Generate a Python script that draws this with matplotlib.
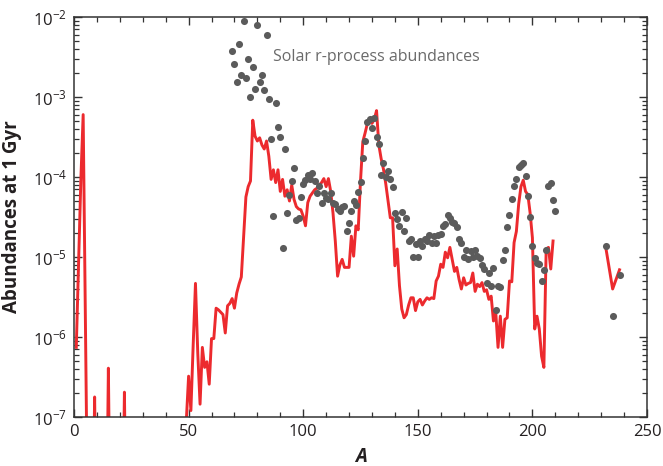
import numpy as np
import matplotlib
matplotlib.use("Agg")
import matplotlib.pyplot as plt
from matplotlib.ticker import MultipleLocator, LogLocator, NullFormatter, LogFormatterMathtext

plt.rcParams['font.family'] = ['Open Sans', 'DejaVu Sans']
plt.rcParams['mathtext.fontset'] = 'custom'
plt.rcParams['mathtext.rm'] = 'Open Sans'
plt.rcParams['mathtext.default'] = 'regular'

# model abundances at 1 Gyr (log10), A = 1..209, then actinides
model_A = list(range(1, 210))
model_log = [
    -6.13, -5.09, -4.03, -3.22, -5.80, -8.50, -9.0, -9.0, -6.75, -9.0,   # 1-10
    -9.0, -9.0, -9.0, -9.0, -6.39, -9.0, -9.0, -9.0, -9.0, -9.0,         # 11-20
    -9.0, -6.69, -9.0, -9.0, -9.0, -9.0, -9.0, -9.0, -9.0, -9.0,         # 21-30
    -9.0, -9.0, -9.0, -9.0, -9.0, -9.0, -9.0, -9.0, -9.0, -9.0,          # 31-40
    -9.0, -9.0, -9.0, -9.0, -9.0, -9.0, -9.0, -8.0, -7.05, -6.49,        # 41-50
    -6.92, -6.10, -5.33, -6.20, -6.84, -6.13, -6.38, -6.31, -6.59, -6.02,  # 51-60
    -6.02, -5.64, -5.66, -5.69, -5.72, -5.95, -5.61, -5.58, -5.52, -5.64,  # 61-70
    -5.45, -5.34, -5.25, -4.75, -4.25, -4.12, -4.05, -3.29, -3.49, -3.55,  # 71-80
    -3.51, -3.60, -3.65, -3.55, -3.74, -4.03, -3.91, -4.07, -3.91, -4.18,  # 81-90
    -4.03, -4.24, -4.16, -4.30, -4.10, -4.28, -4.37, -4.40, -4.41, -4.49,  # 91-100
    -4.61, -4.32, -4.24, -4.20, -4.16, -4.14, -4.10, -4.07, -4.02, -4.12,  # 101-110
    -4.02, -4.18, -4.45, -4.80, -5.24, -5.10, -5.03, -5.13, -5.13, -5.13,  # 111-120
    -4.74, -4.99, -4.61, -4.66, -4.05, -3.56, -3.45, -3.33, -3.28, -3.33,  # 121-130
    -3.28, -3.17, -3.60, -3.77, -3.90, -4.08, -4.30, -4.51, -4.51, -5.11,  # 131-140
    -4.90, -5.36, -5.65, -5.76, -5.72, -5.60, -5.51, -5.51, -5.67, -5.56,  # 141-150
    -5.53, -5.60, -5.55, -5.51, -5.53, -5.51, -5.52, -5.30, -5.24, -5.09,  # 151-160
    -5.13, -4.94, -5.01, -4.88, -5.03, -5.18, -5.13, -5.28, -5.40, -5.26,  # 161-170
    -5.35, -5.33, -5.32, -5.20, -5.43, -5.34, -5.37, -5.32, -5.43, -5.41,  # 171-180
    -5.53, -5.49, -5.80, -5.69, -6.13, -5.74, -6.13, -5.78, -5.76, -5.30,  # 181-190
    -5.31, -4.82, -4.68, -4.34, -4.12, -4.04, -4.18, -4.22, -4.45, -4.76,  # 191-200
    -5.90, -5.74, -5.90, -6.24, -6.38, -4.90, -4.88, -5.15, -4.80,         # 201-209
]
actinide_A = [232, 235, 238]
actinide_log = [-4.88, -5.40, -5.16]

# solar r-process abundances (log10)
solar_A = list(range(69, 211))
solar_log = [
    -2.42, -2.59, -2.81, -2.34, -2.72, -2.05, -2.76, -2.52, -3.00, -2.63,  # 69-78
    -2.90, -2.10, -2.81, -2.73, -2.91, -2.23, -3.03, -3.52, -4.49, -3.08,  # 79-88
    -3.37, -3.50, -4.89, -3.65, -4.45, -4.22, -4.05, -3.89, -4.54, -4.51,  # 89-98
    -4.25, -4.09, -4.04, -3.98, -4.03, -3.95, -4.05, -4.20, -4.11, -4.32,  # 99-108
    -4.20, -4.26, -4.27, -4.20, -4.33, -4.34, -4.40, -4.42, -4.37, -4.36,  # 109-118
    -4.68, -4.58, -4.43, -4.30, -4.35, -4.19, -4.06, -3.76, -3.55, -3.31,  # 119-128
    -3.28, -3.39, -3.26, -3.50, -3.59, -3.98, -3.82, -4.00, -3.92, -4.03,  # 129-138
    -4.13, -4.45, -4.53, -4.61, -4.44, -4.68, -4.51, -4.80, -4.77, -5.00,  # 139-148
    -4.84, -5.00, -4.80, -4.86, -4.77, -4.80, -4.72, -4.82, -4.74, -4.82,  # 149-158
    -4.72, -4.71, -4.61, -4.59, -4.48, -4.51, -4.56, -4.58, -4.63, -4.77,  # 159-168
    -4.82, -5.00, -4.91, -5.02, -4.93, -5.00, -4.91, -4.99, -5.01, -5.10,  # 169-178
    -5.15, -5.32, -5.20, -5.36, -5.14, -5.66, -5.36, -5.38, -5.04, -4.91,  # 179-188
    -4.62, -4.47, -4.27, -4.11, -4.02, -3.87, -3.85, -3.82, -3.99, -4.24,  # 189-198
    -4.50, -4.86, -5.01, -5.07, -5.09, -5.30, -5.16, -4.91, -4.11, -4.08,  # 199-208
    -4.29, -4.43,                                                          # 209-210
]
solar_act_A = [232, 235, 238]
solar_act_log = [-4.86, -5.74, -5.23]

red = '#ec2a2e'
dot = '#5b5b5b'
axcol = '#333333'

fig = plt.figure(figsize=(6.63, 4.66), dpi=100)
ax = fig.add_axes([0.1116, 0.1052, 0.8643, 0.8583])

ax.plot(model_A, 10.0 ** np.array(model_log), color=red, lw=2.1, zorder=2)
ax.plot(actinide_A, 10.0 ** np.array(actinide_log), color=red, lw=2.1, zorder=2)
ax.scatter(solar_A, 10.0 ** np.array(solar_log), s=26, color=dot, lw=0, zorder=3)
ax.scatter(solar_act_A, 10.0 ** np.array(solar_act_log), s=26, color=dot, lw=0, zorder=3)

ax.text(87, 10 ** -2.5, 'Solar r-process abundances', color='#6a6a6a', fontsize=11.5,
        ha='left', va='center')

ax.set_yscale('log')
ax.set_xlim(0, 250)
ax.set_ylim(1e-7, 1e-2)

ax.xaxis.set_major_locator(MultipleLocator(50))
ax.xaxis.set_minor_locator(MultipleLocator(10))
ax.yaxis.set_major_locator(LogLocator(base=10, numticks=10))
ax.yaxis.set_major_formatter(LogFormatterMathtext())
ax.yaxis.set_minor_locator(LogLocator(base=10, subs=np.arange(2, 10), numticks=10))
ax.yaxis.set_minor_formatter(NullFormatter())

ax.tick_params(which='both', direction='in', top=True, right=True, colors=axcol,
               labelcolor='#231f20', labelsize=12)
ax.tick_params(which='major', length=6, width=1.0)
ax.tick_params(which='minor', length=3.5, width=0.9)
ax.tick_params(axis='x', pad=5)
ax.tick_params(axis='y', pad=5)
for s in ax.spines.values():
    s.set_color(axcol)
    s.set_linewidth(1.1)

ax.set_ylabel('Abundances at 1 Gyr', fontsize=13.5, fontweight='bold', color='#231f20')
ax.yaxis.set_label_coords(-0.09, 0.5)
ax.set_xlabel('A', fontsize=13.5, fontweight='bold', fontstyle='italic', color='#231f20',
              va='center')
ax.xaxis.set_label_coords(0.5, -0.1)

fig.savefig('out.png', dpi=100)
